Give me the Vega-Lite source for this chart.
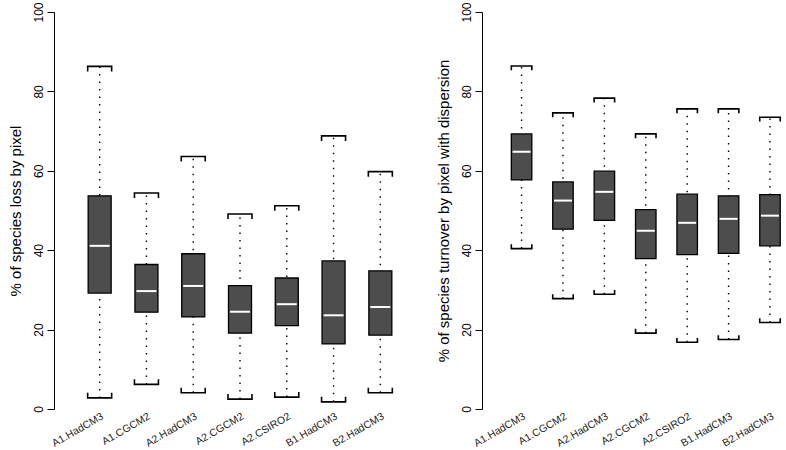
{
  "$schema": "https://vega.github.io/schema/vega-lite/v6.json",
  "padding": {"left": 8, "top": 1, "right": 0, "bottom": 0},
  "background": "white",
  "spacing": 10,
  "config": {
    "view": {"stroke": null},
    "font": "Liberation Sans",
    "axis": {
      "grid": false,
      "domainColor": "black",
      "domainWidth": 1,
      "tickColor": "black",
      "labelColor": "black",
      "titleColor": "black",
      "labelFont": "Liberation Sans",
      "titleFont": "Liberation Sans",
      "titleFontWeight": "normal"
    }
  },
  "datasets": {
    "loss": [
      {"scenario": "A1.HadCM3", "lower": 2.8, "q1": 29.2, "median": 41.1, "q3": 53.7, "upper": 86.3},
      {"scenario": "A1.CGCM2", "lower": 6.2, "q1": 24.4, "median": 29.7, "q3": 36.4, "upper": 54.4},
      {"scenario": "A2.HadCM3", "lower": 4.1, "q1": 23.2, "median": 31.0, "q3": 39.1, "upper": 63.6},
      {"scenario": "A2.CGCM2", "lower": 2.5, "q1": 19.1, "median": 24.5, "q3": 31.1, "upper": 49.1},
      {"scenario": "A2.CSIRO2", "lower": 3.0, "q1": 21.0, "median": 26.4, "q3": 33.0, "upper": 51.2},
      {"scenario": "B1.HadCM3", "lower": 1.8, "q1": 16.4, "median": 23.6, "q3": 37.3, "upper": 68.8},
      {"scenario": "B2.HadCM3", "lower": 4.1, "q1": 18.6, "median": 25.7, "q3": 34.8, "upper": 59.8}
    ],
    "turnover": [
      {"scenario": "A1.HadCM3", "lower": 40.4, "q1": 57.7, "median": 64.8, "q3": 69.3, "upper": 86.4},
      {"scenario": "A1.CGCM2", "lower": 27.8, "q1": 45.3, "median": 52.5, "q3": 57.2, "upper": 74.6},
      {"scenario": "A2.HadCM3", "lower": 28.9, "q1": 47.5, "median": 54.7, "q3": 59.9, "upper": 78.3},
      {"scenario": "A2.CGCM2", "lower": 19.1, "q1": 37.9, "median": 44.9, "q3": 50.2, "upper": 69.3},
      {"scenario": "A2.CSIRO2", "lower": 16.8, "q1": 38.9, "median": 46.9, "q3": 54.1, "upper": 75.6},
      {"scenario": "B1.HadCM3", "lower": 17.5, "q1": 39.2, "median": 47.9, "q3": 53.7, "upper": 75.6},
      {"scenario": "B2.HadCM3", "lower": 21.8, "q1": 41.1, "median": 48.7, "q3": 54.0, "upper": 73.5}
    ]
  },
  "hconcat": [
    {
      "width": 372,
      "height": 397,
      "data": {"name": "loss"},
      "encoding": {
        "x": {
          "field": "scenario", "type": "nominal", "sort": null,
          "scale": {"type": "point", "padding": 0.976},
          "axis": {"title": null, "domain": false, "ticks": false, "labelAngle": -30, "labelAlign": "right", "labelBaseline": "top", "labelPadding": 2, "labelFontSize": 10.5, "labelColor": "#222"}
        }
      },
      "layer": [
        {
          "mark": {"type": "rule", "strokeDash": [1.5, 6], "strokeWidth": 1.4, "color": "black"},
          "encoding": {
            "y": {
              "field": "lower", "type": "quantitative",
              "scale": {"domain": [0, 100], "nice": false},
              "axis": {"title": "% of species loss by pixel", "values": [0, 20, 40, 60, 80, 100], "tickSize": 7, "labelAngle": -90, "labelAlign": "center", "labelBaseline": "middle", "labelPadding": 9, "labelFontSize": 12, "titleFontSize": 15, "titlePadding": 9}
            },
            "y2": {"field": "upper"}
          }
        },
        {
          "mark": {"type": "bar", "width": 23, "fill": "#4d4d4d", "stroke": "black", "strokeWidth": 1.3},
          "encoding": {"y": {"field": "q1", "type": "quantitative"}, "y2": {"field": "q3"}}
        },
        {
          "mark": {"type": "tick", "color": "white", "size": 20, "thickness": 2, "opacity": 1},
          "encoding": {"y": {"field": "median", "type": "quantitative"}}
        },
        {
          "mark": {"type": "point", "shape": "M-1,0.42L-1,0L1,0L1,0.42", "size": 576, "filled": false, "stroke": "black", "strokeWidth": 1.6, "opacity": 1},
          "encoding": {"y": {"field": "upper", "type": "quantitative"}}
        },
        {
          "mark": {"type": "point", "shape": "M-1,-0.42L-1,0L1,0L1,-0.42", "size": 576, "filled": false, "stroke": "black", "strokeWidth": 1.6, "opacity": 1},
          "encoding": {"y": {"field": "lower", "type": "quantitative"}}
        }
      ]
    },
    {
      "width": 300,
      "height": 397,
      "data": {"name": "turnover"},
      "encoding": {
        "x": {
          "field": "scenario", "type": "nominal", "sort": null,
          "scale": {"type": "point", "padding": 0.623, "align": 0.767},
          "axis": {"title": null, "domain": false, "ticks": false, "labelAngle": -30, "labelAlign": "right", "labelBaseline": "top", "labelPadding": 2, "labelFontSize": 10.5, "labelColor": "#222"}
        }
      },
      "layer": [
        {
          "mark": {"type": "rule", "strokeDash": [1.5, 6], "strokeWidth": 1.4, "color": "black"},
          "encoding": {
            "y": {
              "field": "lower", "type": "quantitative",
              "scale": {"domain": [0, 100], "nice": false},
              "axis": {"title": "% of species turnover by pixel with dispersion", "values": [0, 20, 40, 60, 80, 100], "tickSize": 7, "labelAngle": -90, "labelAlign": "center", "labelBaseline": "middle", "labelPadding": 9, "labelFontSize": 12, "titleFontSize": 15, "titlePadding": 9}
            },
            "y2": {"field": "upper"}
          }
        },
        {
          "mark": {"type": "bar", "width": 20.5, "fill": "#4d4d4d", "stroke": "black", "strokeWidth": 1.3},
          "encoding": {"y": {"field": "q1", "type": "quantitative"}, "y2": {"field": "q3"}}
        },
        {
          "mark": {"type": "tick", "color": "white", "size": 18, "thickness": 2, "opacity": 1},
          "encoding": {"y": {"field": "median", "type": "quantitative"}}
        },
        {
          "mark": {"type": "point", "shape": "M-1,0.42L-1,0L1,0L1,0.42", "size": 420, "filled": false, "stroke": "black", "strokeWidth": 1.6, "opacity": 1},
          "encoding": {"y": {"field": "upper", "type": "quantitative"}}
        },
        {
          "mark": {"type": "point", "shape": "M-1,-0.42L-1,0L1,0L1,-0.42", "size": 420, "filled": false, "stroke": "black", "strokeWidth": 1.6, "opacity": 1},
          "encoding": {"y": {"field": "lower", "type": "quantitative"}}
        }
      ]
    }
  ]
}
